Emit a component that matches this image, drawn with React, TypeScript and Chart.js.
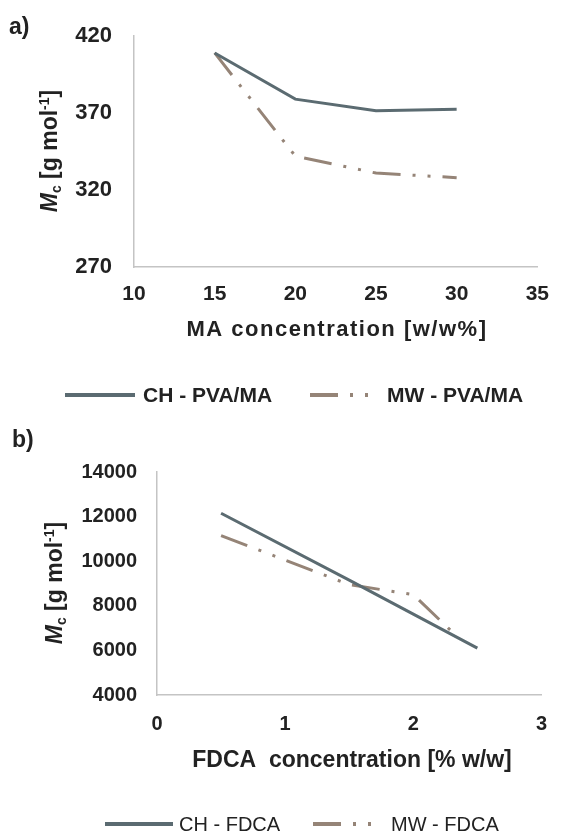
import React, { useEffect, useRef } from 'react';
import { Chart, registerables } from 'chart.js';

Chart.register(...registerables);

const FONT = "'Liberation Sans', Arial, Helvetica, sans-serif";

// ---------- Panel a) ----------
const maConc = [15, 20, 25, 30];
const chPvaMa = [409, 379, 371.5, 372.5];
const mwPvaMa = [409, 342, 331, 328];
const aXTicks = [10, 15, 20, 25, 30, 35];
const aYTicks = [270, 320, 370, 420];
const seriesA = ['CH - PVA/MA', 'MW - PVA/MA'];

// ---------- Panel b) ----------
const fdcaConcCh = [0.5, 1.5, 2.5];
const chFdca = [12150, 9150, 6100];
const fdcaConcMw = [0.5, 1.5, 2.0, 2.3];
const mwFdca = [11150, 8950, 8500, 6850];
const bXTicks = [0, 1, 2, 3];
const bYTicks = [4000, 6000, 8000, 10000, 12000, 14000];
const seriesB = ['CH - FDCA', 'MW - FDCA'];

const CH_COLOR = '#5b6b71';
const MW_COLOR = '#958477';
const MW_DASH = [28, 12, 3, 12, 3, 12];
const TEXT = '#222222';
const AXIS = '#c4c4c4';

const decoPlugin = {
  id: 'deco',
  afterDraw(chart: any, _args: any, o: any) {
    const ctx = chart.ctx as CanvasRenderingContext2D;
    ctx.save();
    ctx.fillStyle = TEXT;
    // panel label
    ctx.font = o.panelFont;
    ctx.textAlign = 'left';
    ctx.textBaseline = 'middle';
    ctx.fillText(o.panel, o.panelX, o.panelY);
    // x title
    ctx.font = o.xTitleFont;
    (ctx as any).letterSpacing = o.xTitleSpacing || '0px';
    ctx.textAlign = 'center';
    ctx.fillText(o.xTitle, o.xTitleX, o.xTitleY);
    (ctx as any).letterSpacing = '0px';
    // y title (rich text, rotated)
    ctx.save();
    ctx.translate(o.yTitleX, o.yTitleY);
    ctx.rotate(-Math.PI / 2);
    const segs = o.yTitle as any[];
    let total = 0;
    const widths: number[] = [];
    segs.forEach((s) => {
      ctx.font = s.font;
      const w = ctx.measureText(s.t).width;
      widths.push(w);
      total += w;
    });
    let x = -total / 2;
    ctx.textAlign = 'left';
    ctx.textBaseline = 'alphabetic';
    segs.forEach((s, i) => {
      ctx.font = s.font;
      ctx.fillText(s.t, x, s.dy);
      x += widths[i];
    });
    ctx.restore();
    // legend
    (o.legend as any[]).forEach((it, i) => {
      const ds = chart.data.datasets[i];
      ctx.save();
      ctx.strokeStyle = ds.borderColor;
      ctx.lineWidth = it.lw;
      ctx.lineCap = 'butt';
      ctx.setLineDash(ds.borderDash || []);
      ctx.beginPath();
      ctx.moveTo(it.x1, it.y);
      ctx.lineTo(it.x2, it.y);
      ctx.stroke();
      ctx.restore();
      ctx.fillStyle = TEXT;
      ctx.font = o.legendFont;
      ctx.textAlign = 'left';
      ctx.textBaseline = 'middle';
      ctx.fillText(ds.label, it.tx, it.y + 1);
    });
    ctx.restore();
  },
};

function yTitleSegs(size: number, small: number, base: number) {
  return [
    { t: 'M', font: `italic bold ${size}px ${FONT}`, dy: base },
    { t: 'c', font: `bold ${small}px ${FONT}`, dy: base + 4 },
    { t: ' [g mol', font: `bold ${size}px ${FONT}`, dy: base },
    { t: '-1', font: `bold ${small}px ${FONT}`, dy: base - 8 },
    { t: ']', font: `bold ${size}px ${FONT}`, dy: base },
  ];
}

function makeConfig(p: any): any {
  return {
    type: 'line',
    data: {
      datasets: [
        {
          label: p.names[0],
          data: p.chX.map((x: number, i: number) => ({ x, y: p.chY[i] })),
          borderColor: CH_COLOR,
          backgroundColor: CH_COLOR,
          borderWidth: 3,
          pointRadius: 0,
          tension: 0,
          fill: false,
        },
        {
          label: p.names[1],
          data: p.mwX.map((x: number, i: number) => ({ x, y: p.mwY[i] })),
          borderColor: MW_COLOR,
          backgroundColor: MW_COLOR,
          borderWidth: 3,
          borderDash: MW_DASH,
          pointRadius: 0,
          tension: 0,
          fill: false,
        },
      ],
    },
    options: {
      animation: false,
      responsive: false,
      events: [],
      layout: { padding: p.padding },
      plugins: {
        legend: { display: false },
        tooltip: { enabled: false },
        title: { display: false },
        deco: p.deco,
      },
      scales: {
        x: {
          type: 'linear',
          min: p.xTicks[0],
          max: p.xTicks[p.xTicks.length - 1],
          afterBuildTicks: (s: any) => {
            s.ticks = p.xTicks.map((v: number) => ({ value: v }));
          },
          afterFit: (s: any) => {
            s.height = p.xHeight;
          },
          grid: { display: false, drawTicks: false },
          border: { display: true, color: AXIS, width: 1.5 },
          ticks: {
            color: TEXT,
            padding: p.xTickPad,
            maxRotation: 0,
            autoSkip: false,
            callback: (v: any) => String(v),
            font: { family: FONT, size: p.xTickSize, weight: 'bold' },
          },
        },
        y: {
          type: 'linear',
          min: p.yTicks[0],
          max: p.yTicks[p.yTicks.length - 1],
          afterBuildTicks: (s: any) => {
            s.ticks = p.yTicks.map((v: number) => ({ value: v }));
          },
          afterFit: (s: any) => {
            s.width = p.yWidth;
          },
          grid: { display: false, drawTicks: false },
          border: { display: true, color: AXIS, width: 1.5 },
          ticks: {
            color: TEXT,
            padding: p.yTickPad,
            autoSkip: false,
            callback: (v: any) => String(v),
            font: { family: FONT, size: p.yTickSize, weight: 'bold' },
          },
        },
      },
    },
    plugins: [decoPlugin],
  };
}

const configA = () =>
  makeConfig({
    names: seriesA,
    chX: maConc,
    chY: chPvaMa,
    mwX: maConc,
    mwY: mwPvaMa,
    xTicks: aXTicks,
    yTicks: aYTicks,
    padding: { top: 36, right: 26, left: 0, bottom: 0 },
    xHeight: 410 - 267,
    yWidth: 134,
    xTickPad: 15,
    yTickPad: 22,
    xTickSize: 21,
    yTickSize: 22,
    deco: {
      panel: 'a)',
      panelFont: `bold 23px ${FONT}`,
      panelX: 9,
      panelY: 28,
      xTitle: 'MA concentration [w/w%]',
      xTitleFont: `bold 22px ${FONT}`,
      xTitleSpacing: '1.5px',
      xTitleX: 337,
      xTitleY: 330,
      yTitle: yTitleSegs(23, 14, 8),
      yTitleX: 49,
      yTitleY: 151,
      legendFont: `bold 21px ${FONT}`,
      legend: [
        { x1: 65, x2: 135, tx: 143, y: 395, lw: 4 },
        { x1: 310, x2: 378, tx: 387, y: 395, lw: 4 },
      ],
    },
  });

const configB = () =>
  makeConfig({
    names: seriesB,
    chX: fdcaConcCh,
    chY: chFdca,
    mwX: fdcaConcMw,
    mwY: mwFdca,
    xTicks: bXTicks,
    yTicks: bYTicks,
    padding: { top: 62, right: 13, left: 0, bottom: 0 },
    xHeight: 421 - 285,
    yWidth: 157,
    xTickPad: 17,
    yTickPad: 20,
    xTickSize: 20,
    yTickSize: 20,
    deco: {
      panel: 'b)',
      panelFont: `bold 23px ${FONT}`,
      panelX: 12,
      panelY: 31,
      xTitle: 'FDCA  concentration [% w/w]',
      xTitleFont: `bold 23px ${FONT}`,
      xTitleSpacing: '0px',
      xTitleX: 352,
      xTitleY: 351,
      yTitle: yTitleSegs(23, 14, 8),
      yTitleX: 54,
      yTitleY: 173,
      legendFont: `20px ${FONT}`,
      legend: [
        { x1: 105, x2: 173, tx: 179, y: 414, lw: 4 },
        { x1: 313, x2: 380, tx: 391, y: 414, lw: 4 },
      ],
    },
  });

function ChartCanvas({ make, width, height, top }: any) {
  const ref = useRef<HTMLCanvasElement | null>(null);
  useEffect(() => {
    if (!ref.current) return;
    const chart = new Chart(ref.current, make());
    return () => chart.destroy();
  }, []);
  return (
    <canvas
      ref={ref}
      width={width}
      height={height}
      style={{ position: 'absolute', left: 0, top, width, height, display: 'block' }}
    />
  );
}

export default function App() {
  return (
    <div
      style={{
        position: 'absolute',
        left: 0,
        top: 0,
        width: 564,
        height: 831,
        background: '#ffffff',
        overflow: 'hidden',
      }}
    >
      <ChartCanvas make={configA} width={564} height={410} top={0} />
      <ChartCanvas make={configB} width={564} height={421} top={410} />
    </div>
  );
}
